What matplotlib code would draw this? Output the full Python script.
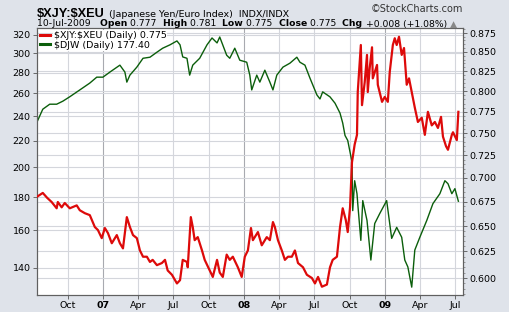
import matplotlib
matplotlib.use("Agg")
import matplotlib.pyplot as plt
import matplotlib.dates as mdates
import matplotlib.ticker as mticker
from matplotlib.transforms import blended_transform_factory
from matplotlib.lines import Line2D
import pandas as pd

# ---------------- data ----------------
djw_dates = ["2006-07-13", "2006-07-28", "2006-08-15", "2006-09-02", "2006-09-18", "2006-10-06",
             "2006-11-01", "2006-11-27", "2006-12-15", "2006-12-31", "2007-01-18", "2007-02-13",
             "2007-02-26", "2007-03-03", "2007-03-11", "2007-03-29", "2007-04-14", "2007-05-02",
             "2007-05-20", "2007-06-04", "2007-06-23", "2007-07-11", "2007-07-19", "2007-07-26",
             "2007-08-06", "2007-08-13", "2007-08-21", "2007-09-08", "2007-09-27", "2007-10-10",
             "2007-10-23", "2007-10-30", "2007-11-17", "2007-11-25", "2007-12-08", "2007-12-21",
             "2008-01-08", "2008-01-16", "2008-01-21", "2008-02-03", "2008-02-11", "2008-02-24",
             "2008-03-08", "2008-03-16", "2008-03-26", "2008-04-11", "2008-04-29", "2008-05-17",
             "2008-05-25", "2008-06-07", "2008-06-20", "2008-07-08", "2008-07-16", "2008-07-23",
             "2008-08-11", "2008-08-24", "2008-09-06", "2008-09-13", "2008-09-19", "2008-09-26",
             "2008-10-07", "2008-10-09", "2008-10-14", "2008-10-20", "2008-10-22", "2008-10-30",
             "2008-11-04", "2008-11-15", "2008-11-25", "2008-12-05", "2008-12-18", "2009-01-05",
             "2009-01-18", "2009-01-31", "2009-02-13", "2009-02-21", "2009-03-01", "2009-03-11",
             "2009-03-19", "2009-04-01", "2009-04-19", "2009-05-05", "2009-05-23", "2009-06-05",
             "2009-06-13", "2009-06-23", "2009-07-01", "2009-07-10"]
djw_values = [235.0, 245.9, 250.3, 250.3, 253.0, 257.0,
              263.3, 269.8, 275.5, 275.5, 280.5, 287.5,
              280.5, 270.7, 277.5, 285.5, 294.6, 295.7,
              301.0, 305.3, 309.0, 313.3, 309.0, 296.0,
              294.6, 277.5, 287.5, 294.6, 309.0, 316.6,
              311.1, 317.7, 297.8, 294.6, 305.3, 292.6,
              290.5, 277.5, 263.3, 277.5, 270.7, 282.4,
              270.7, 263.3, 277.5, 285.5, 289.5, 295.7,
              290.5, 287.5, 274.6, 258.7, 255.0, 261.5,
              256.9, 251.2, 242.5, 234.1, 224.0, 220.1,
              204.0, 171.6, 190.8, 182.2, 175.9, 154.4,
              177.8, 165.7, 144.0, 163.9, 169.8, 177.8,
              155.5, 161.7, 156.1, 144.0, 140.5, 130.8,
              149.2, 156.1, 165.7, 175.9, 182.2, 190.8,
              188.8, 182.2, 185.5, 177.4]

xjy_dates = ["2006-07-13", "2006-07-28", "2006-08-08", "2006-08-20", "2006-09-02", "2006-09-05",
             "2006-09-15", "2006-09-23", "2006-10-06", "2006-10-24", "2006-11-01", "2006-11-14",
             "2006-11-27", "2006-12-10", "2006-12-18", "2006-12-28", "2007-01-05", "2007-01-13",
             "2007-01-23", "2007-02-05", "2007-02-13", "2007-02-21", "2007-03-03", "2007-03-11",
             "2007-03-19", "2007-03-29", "2007-04-06", "2007-04-14", "2007-04-24", "2007-05-02",
             "2007-05-09", "2007-05-20", "2007-06-02", "2007-06-10", "2007-06-17", "2007-06-28",
             "2007-07-11", "2007-07-19", "2007-07-26", "2007-08-06", "2007-08-08", "2007-08-16",
             "2007-08-21", "2007-08-26", "2007-09-03", "2007-09-14", "2007-09-21", "2007-10-04",
             "2007-10-12", "2007-10-23", "2007-10-30", "2007-11-07", "2007-11-17", "2007-11-25",
             "2007-12-03", "2007-12-16", "2007-12-26", "2008-01-03", "2008-01-11", "2008-01-19",
             "2008-01-24", "2008-02-06", "2008-02-16", "2008-02-29", "2008-03-08", "2008-03-16",
             "2008-03-21", "2008-03-29", "2008-04-08", "2008-04-16", "2008-04-24", "2008-05-04",
             "2008-05-12", "2008-05-20", "2008-06-02", "2008-06-12", "2008-06-25", "2008-07-03",
             "2008-07-11", "2008-07-21", "2008-08-03", "2008-08-11", "2008-08-18", "2008-08-29",
             "2008-09-06", "2008-09-13", "2008-09-21", "2008-09-26", "2008-10-02", "2008-10-07",
             "2008-10-14", "2008-10-20", "2008-10-22", "2008-10-30", "2008-11-02", "2008-11-09",
             "2008-11-15", "2008-11-17", "2008-11-22", "2008-11-28", "2008-11-30", "2008-12-11",
             "2008-12-13", "2008-12-24", "2008-12-31", "2009-01-08", "2009-01-13", "2009-01-21",
             "2009-01-26", "2009-01-31", "2009-02-06", "2009-02-13", "2009-02-19", "2009-02-26",
             "2009-03-04", "2009-03-11", "2009-03-19", "2009-03-27", "2009-04-06", "2009-04-14",
             "2009-04-22", "2009-05-02", "2009-05-10", "2009-05-18", "2009-05-26", "2009-05-31",
             "2009-06-08", "2009-06-13", "2009-06-23", "2009-06-26", "2009-07-06", "2009-07-10"]
xjy_values = [0.680, 0.684, 0.679, 0.6745, 0.668, 0.6745,
              0.669, 0.6735, 0.668, 0.671, 0.666, 0.663,
              0.661, 0.649, 0.646, 0.638, 0.648, 0.643,
              0.633, 0.641, 0.633, 0.628, 0.659, 0.649,
              0.641, 0.638, 0.626, 0.620, 0.620, 0.615,
              0.617, 0.612, 0.614, 0.617, 0.607, 0.603,
              0.595, 0.598, 0.617, 0.615, 0.610, 0.659,
              0.649, 0.636, 0.639, 0.626, 0.617, 0.607,
              0.601, 0.617, 0.605, 0.601, 0.622, 0.617,
              0.620, 0.610, 0.601, 0.620, 0.626, 0.648,
              0.636, 0.644, 0.631, 0.639, 0.636, 0.654,
              0.649, 0.636, 0.626, 0.617, 0.620, 0.620,
              0.626, 0.614, 0.610, 0.603, 0.600, 0.595,
              0.601, 0.592, 0.594, 0.610, 0.617, 0.620,
              0.649, 0.668, 0.656, 0.644, 0.669, 0.717,
              0.737, 0.748, 0.799, 0.859, 0.783, 0.811,
              0.846, 0.799, 0.829, 0.856, 0.816, 0.833,
              0.808, 0.787, 0.793, 0.787, 0.824, 0.859,
              0.868, 0.859, 0.870, 0.846, 0.855, 0.808,
              0.816, 0.799, 0.780, 0.763, 0.768, 0.748,
              0.775, 0.759, 0.763, 0.756, 0.769, 0.746,
              0.735, 0.731, 0.748, 0.751, 0.742, 0.775]

left_ticks = [140, 160, 180, 200, 220, 240, 260, 280, 300, 320]
right_ticks = [0.600, 0.625, 0.650, 0.675, 0.700, 0.725, 0.750, 0.775, 0.800, 0.825, 0.850, 0.875]
month_ticks = ["2006-10-01", "2007-01-01", "2007-04-01", "2007-07-01", "2007-10-01", "2008-01-01",
               "2008-04-01", "2008-07-01", "2008-10-01", "2009-01-01", "2009-04-01", "2009-07-01"]
month_labels = ["Oct", "07", "Apr", "Jul", "Oct", "08", "Apr", "Jul", "Oct", "09", "Apr", "Jul"]

legend_xjy = r"\$XJY:\$XEU (Daily) 0.775"
legend_djw = r"\$DJW (Daily) 177.40"

# ---------------- figure ----------------
W, H = 510, 312
fig = plt.figure(figsize=(W / 100, H / 100), dpi=100)
fig.patch.set_facecolor("#dfe3ea")

L, R, T, B = 37, 463, 28, 295
ax = fig.add_axes([L / W, 1 - B / H, (R - L) / W, (B - T) / H])
ax.set_facecolor("white")
ax2 = ax.twinx()
ax2.patch.set_visible(False)

dj_d = pd.to_datetime(djw_dates)
xj_d = pd.to_datetime(xjy_dates)

ax.set_yscale("log")
ax2.set_yscale("log")
ax.set_ylim(127.2, 328)
ax2.set_ylim(0.5845, 0.8818)
ax.set_xlim(pd.Timestamp("2006-07-13"), pd.Timestamp("2009-07-22"))

grid_c = "#d4d6dc"
year_c = "#a8aab0"
ticks_dt = pd.to_datetime(month_ticks)
for d, lab in zip(ticks_dt, month_labels):
    ax.axvline(d, color=year_c if lab.isdigit() else grid_c, lw=0.8, zorder=0)
for v in left_ticks:
    ax.axhline(v, color=grid_c, lw=0.8, zorder=0)
tr = blended_transform_factory(ax.transAxes, ax2.transData)
for v in right_ticks:
    ax.plot([0, 1], [v, v], color=grid_c, lw=0.8, transform=tr, zorder=0)

green = "#0b5e0b"
red = "#dd0a0a"
ax.plot(dj_d, djw_values, color=green, lw=1.0, zorder=2)
ax2.plot(xj_d, xjy_values, color=red, lw=1.6, zorder=3)

# ticks
tick_font = 6.8
ax.yaxis.set_major_locator(mticker.FixedLocator(left_ticks))
ax.yaxis.set_major_formatter(mticker.FixedFormatter([str(v) for v in left_ticks]))
ax.yaxis.set_minor_locator(mticker.NullLocator())
ax2.yaxis.set_major_locator(mticker.FixedLocator(right_ticks))
ax2.yaxis.set_major_formatter(mticker.FixedFormatter([f"{v:.3f}" for v in right_ticks]))
ax2.yaxis.set_minor_locator(mticker.MultipleLocator(0.005))
ax2.yaxis.set_minor_formatter(mticker.NullFormatter())
ax.set_xticks(ticks_dt)
ax.set_xticklabels(month_labels)
for lbl, lab in zip(ax.get_xticklabels(), month_labels):
    if lab.isdigit():
        lbl.set_fontweight("bold")
ax.tick_params(axis="both", labelsize=tick_font, length=3, width=0.6, color="#555555", pad=1.5)
ax2.tick_params(axis="y", which="major", labelsize=tick_font, length=3, width=0.6, color="#555555", pad=1.5)
ax2.tick_params(axis="y", which="minor", length=1.5, width=0.5, color="#777777")
for a in (ax, ax2):
    for s in a.spines.values():
        s.set_color("#606060")
        s.set_linewidth(0.8)

# legend
handles = [Line2D([], [], color=red, lw=2.2), Line2D([], [], color=green, lw=2.2)]
leg = ax2.legend(handles, [legend_xjy, legend_djw], loc="upper left", bbox_to_anchor=(0.0, 1.0),
                 fontsize=6.8, frameon=False,
                 handlelength=1.0, handletextpad=0.4, borderpad=0.15, labelspacing=0.05,
                 borderaxespad=0.2)
for t in leg.get_texts():
    t.set_bbox(dict(facecolor="white", edgecolor="none", pad=0.6))
leg.set_zorder(1)

# titles
renderer = fig.canvas.get_renderer()
t1 = fig.text(37 / W, 1 - 17 / H, r"\$XJY:\$XEU", fontsize=9.2, fontweight="bold",
              family="Liberation Sans", va="baseline", ha="left")
bb = t1.get_window_extent(renderer=renderer)
fig.text((bb.x1 + 4) / W, 1 - 17 / H, "(Japanese Yen/Euro Index)  INDX/INDX", fontsize=6.8,
         va="baseline", ha="left")
fig.text(463 / W, 1 - 12 / H, "©StockCharts.com", fontsize=7, va="baseline", ha="right", color="#333333")

parts = [("10-Jul-2009   ", "normal"), ("Open ", "bold"), ("0.777  ", "normal"),
         ("High ", "bold"), ("0.781  ", "normal"), ("Low ", "bold"), ("0.775  ", "normal"),
         ("Close ", "bold"), ("0.775  ", "normal"), ("Chg ", "bold"), ("+0.008 (+1.08%) ", "normal"),
         ("▲", "normal")]
xpix = 37
for txt, wt in parts:
    t = fig.text(xpix / W, 1 - 26.5 / H, txt, fontsize=6.7, fontweight=wt, va="baseline", ha="left",
                 color="#888888" if txt == "▲" else "black")
    bb = t.get_window_extent(renderer=renderer)
    xpix += bb.width

fig.savefig("out.png", dpi=100, facecolor=fig.get_facecolor())
